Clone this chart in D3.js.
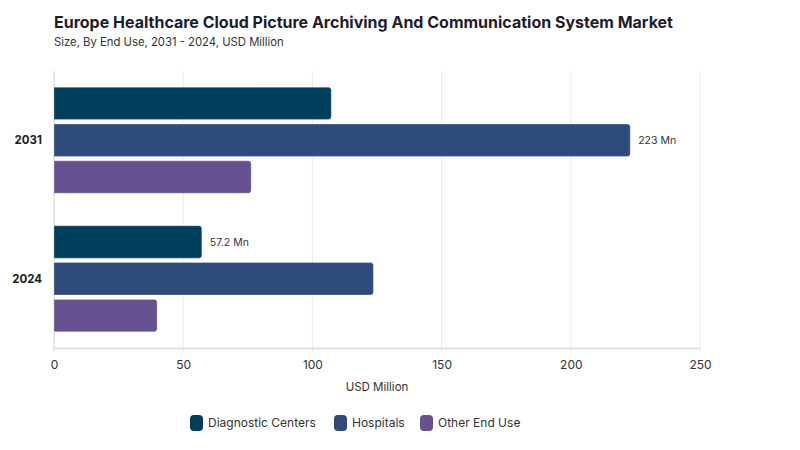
<!DOCTYPE html>
<html>
<head>
<meta charset="utf-8">
<script src="https://cdn.jsdelivr.net/npm/d3@7"></script>
<style>
  body { margin: 0; background: #fff; font-family: Inter, "Noto Sans", sans-serif; }
  svg text { font-family: Inter, "Noto Sans", sans-serif; }
</style>
</head>
<body>
<div id="chart"></div>
<script>
const years = ["2031", "2024"];
const segments = ["Diagnostic Centers", "Hospitals", "Other End Use"];
const diagnosticCenters = [107.3, 57.2];
const hospitals = [223, 123.6];
const otherEndUse = [76.3, 39.9];
const xTicks = [0, 50, 100, 150, 200, 250];
// which bars carry a value label: [year, segment]
const labelled = [["2031", "Hospitals"], ["2024", "Diagnostic Centers"]];
const colors = ["#003f5c", "#2f4b7c", "#665191"];

const width = 800, height = 450;
const margin = { top: 71, right: 100, bottom: 102, left: 54 };

const rows = years.map((y, i) => ({
  year: y,
  values: [diagnosticCenters[i], hospitals[i], otherEndUse[i]]
}));

const svg = d3.select("#chart").append("svg")
  .attr("width", width).attr("height", height);

svg.append("text").attr("x", 54).attr("y", 28)
  .attr("font-size", 16).attr("font-weight", 700).attr("fill", "#1d1d2b")
  .text("Europe Healthcare Cloud Picture Archiving And Communication System Market");
svg.append("text").attr("x", 54).attr("y", 46)
  .attr("font-size", 11.3).attr("fill", "#333")
  .text("Size, By End Use, 2031 - 2024, USD Million");

const x = d3.scaleLinear().domain([0, 250]).range([margin.left, width - margin.right]);
const y0 = d3.scaleBand().domain(years)
  .range([margin.top, height - margin.bottom])
  .paddingInner(0.235).paddingOuter(0.117);
const y1 = d3.scaleBand().domain(segments)
  .range([0, y0.bandwidth()]).paddingInner(0.12);
const color = d3.scaleOrdinal().domain(segments).range(colors);

// grid
svg.append("g").selectAll("line").data(xTicks.slice(1)).join("line")
  .attr("x1", d => x(d)).attr("x2", d => x(d))
  .attr("y1", margin.top).attr("y2", height - margin.bottom + 4)
  .attr("stroke", "#ececec").attr("stroke-width", 1);

// left baseline
svg.append("line")
  .attr("x1", x(0)).attr("x2", x(0))
  .attr("y1", margin.top).attr("y2", height - margin.bottom + 4)
  .attr("stroke", "#e2e2e2").attr("stroke-width", 1.5);

// bottom axis
const xAxis = svg.append("g")
  .attr("transform", `translate(0,${height - margin.bottom})`)
  .call(d3.axisBottom(x).tickValues(xTicks).tickSize(0).tickPadding(12));
xAxis.select(".domain").attr("stroke", "#e0e0e0").attr("stroke-width", 2);
xAxis.selectAll("text").attr("font-size", 12).attr("fill", "#333");

svg.append("text")
  .attr("x", (x(0) + x(250)) / 2).attr("y", 391)
  .attr("text-anchor", "middle").attr("font-size", 11.5).attr("fill", "#333")
  .text("USD Million");

// year labels
svg.append("g").selectAll("text").data(years).join("text")
  .attr("x", 42).attr("y", d => y0(d) + y0.bandwidth() / 2)
  .attr("dy", "0.35em").attr("text-anchor", "end")
  .attr("font-size", 11.5).attr("font-weight", 700).attr("fill", "#222")
  .text(d => d);

function barPath(x0, x1, yTop, h, r) {
  r = Math.min(r, (x1 - x0) / 2, h / 2);
  return `M${x0},${yTop}H${x1 - r}Q${x1},${yTop} ${x1},${yTop + r}` +
    `V${yTop + h - r}Q${x1},${yTop + h} ${x1 - r},${yTop + h}H${x0}Z`;
}

const groups = svg.append("g").selectAll("g").data(rows).join("g")
  .attr("transform", d => `translate(0,${y0(d.year)})`);

const cells = d => segments.map((s, i) => ({ year: d.year, seg: s, value: d.values[i] }));

groups.selectAll("path").data(cells).join("path")
  .attr("d", d => barPath(x(0), x(d.value), y1(d.seg), y1.bandwidth(), 3))
  .attr("fill", d => color(d.seg))
  .attr("stroke", "rgba(255,255,255,0.35)").attr("stroke-width", 0.8);

groups.selectAll("text.val")
  .data(d => cells(d).filter(v => labelled.some(l => l[0] === v.year && l[1] === v.seg)))
  .join("text").attr("class", "val")
  .attr("x", d => x(d.value) + 8)
  .attr("y", d => y1(d.seg) + y1.bandwidth() / 2)
  .attr("dy", "0.35em").attr("font-size", 10.5).attr("fill", "#333")
  .text(d => `${d.value} Mn`);

// legend
const legendX = [190, 334, 420];
const legend = svg.append("g").selectAll("g").data(segments).join("g")
  .attr("transform", (d, i) => `translate(${legendX[i]},423)`);
legend.append("rect")
  .attr("x", 0).attr("y", -8).attr("width", 13).attr("height", 16).attr("rx", 4)
  .attr("fill", d => color(d));
legend.append("text")
  .attr("x", 18).attr("dy", "0.35em")
  .attr("font-size", 12).attr("fill", "#333")
  .text(d => d);
</script>
</body>
</html>
